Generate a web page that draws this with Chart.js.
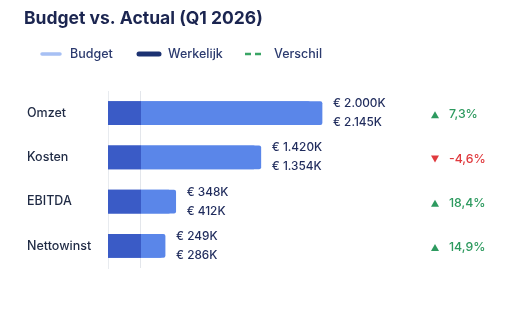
<!DOCTYPE html>
<html>
<head>
<meta charset="utf-8">
<script src="https://cdn.jsdelivr.net/npm/chart.js@4"></script>
<style>
  html, body { margin: 0; padding: 0; background: #ffffff; }
  #wrap { width: 507px; height: 310px; position: relative; }
</style>
</head>
<body>
<div id="wrap"><canvas id="c" width="507" height="310"></canvas></div>
<script>
const categories = ["Omzet", "Kosten", "EBITDA", "Nettowinst"];
const budget = [2000, 1420, 348, 249];
const actual = [2145, 1354, 412, 286];
const seriesNames = ["Budget", "Werkelijk", "Verschil"];
const titleText = "Budget vs. Actual (Q1 2026)";

const X_MIN = -390;
const X_MAX = 3400;
const FONT = "Inter, 'Open Sans', sans-serif";
const NAVY = "#1f2b5c";
const BAR_LIGHT = "#5a86e9";
const BAR_DARK = "#3a5bc6";

function fmtEuro(v) {
  return "€ " + v.toLocaleString("de-DE") + "K";
}
function fmtPct(p) {
  const r = Math.round(p * 10 + 1e-9) / 10;
  return r.toFixed(1).replace(".", ",") + "%";
}

function barFill(ctx) {
  const chart = ctx.chart;
  const area = chart.chartArea;
  if (!area) return BAR_LIGHT;
  const xs = chart.scales.x;
  const zero = xs.getPixelForValue(0);
  const g = chart.ctx.createLinearGradient(area.left, 0, area.right, 0);
  const s = Math.min(Math.max((zero - area.left) / (area.right - area.left), 0), 1);
  g.addColorStop(0, BAR_DARK);
  g.addColorStop(s, BAR_DARK);
  g.addColorStop(s, BAR_LIGHT);
  g.addColorStop(1, BAR_LIGHT);
  return g;
}

const overlayPlugin = {
  id: "overlay",
  afterDraw(chart) {
    const c = chart.ctx;
    const xs = chart.scales.x, ys = chart.scales.y;
    c.save();
    // title
    c.fillStyle = "#1b2550";
    c.font = "bold 17.5px " + FONT;
    c.textBaseline = "alphabetic";
    c.textAlign = "left";
    c.fillText(titleText, 24, 24);

    // legend
    c.font = "500 12.5px " + FONT;
    c.textBaseline = "middle";
    const ly = 54;
    c.lineCap = "round";
    c.strokeStyle = "#a7c0f4"; c.lineWidth = 3.5;
    c.beginPath(); c.moveTo(42, ly); c.lineTo(60, ly); c.stroke();
    c.fillStyle = "#2b3a6e"; c.fillText(seriesNames[0], 70, ly);
    c.strokeStyle = "#1c3272"; c.lineWidth = 5;
    c.beginPath(); c.moveTo(139, ly); c.lineTo(159, ly); c.stroke();
    c.fillStyle = "#2b3a6e"; c.fillText(seriesNames[1], 168, ly);
    c.lineCap = "butt";
    c.strokeStyle = "#3aa565"; c.lineWidth = 2.5;
    c.setLineDash([6, 4]);
    c.beginPath(); c.moveTo(245, ly); c.lineTo(265, ly); c.stroke();
    c.setLineDash([]);
    c.fillStyle = "#2b3a6e"; c.fillText(seriesNames[2], 274, ly);

    // value labels
    c.font = "500 11.8px " + FONT;
    c.fillStyle = NAVY;
    categories.forEach((cat, i) => {
      const yc = ys.getPixelForValue(i);
      const end = xs.getPixelForValue(Math.max(budget[i], actual[i]));
      c.fillText(fmtEuro(budget[i]), end + 11, yc - 9.5);
      c.fillText(fmtEuro(actual[i]), end + 11, yc + 9.5);
    });

    // variance
    c.font = "500 12.3px " + FONT;
    categories.forEach((cat, i) => {
      const yc = ys.getPixelForValue(i) + 1.5;
      const pct = (actual[i] - budget[i]) / budget[i] * 100;
      const up = pct >= 0;
      c.fillStyle = up ? "#2d9a5f" : "#e03a3e";
      c.beginPath();
      if (up) {
        c.moveTo(431, yc + 3.5); c.lineTo(439, yc + 3.5); c.lineTo(435, yc - 3.5);
      } else {
        c.moveTo(431, yc - 3.5); c.lineTo(439, yc - 3.5); c.lineTo(435, yc + 3.5);
      }
      c.closePath(); c.fill();
      c.fillText(fmtPct(pct), 449, yc);
    });
    c.restore();
  }
};

new Chart(document.getElementById("c"), {
  type: "bar",
  data: {
    labels: categories,
    datasets: [
      { label: seriesNames[0], data: budget, base: X_MIN, grouped: false,
        backgroundColor: barFill, barThickness: 23, borderRadius: 2 },
      { label: seriesNames[1], data: actual, base: X_MIN, grouped: false,
        backgroundColor: barFill, barThickness: 23, borderRadius: 2 }
    ]
  },
  options: {
    indexAxis: "y",
    responsive: false,
    animation: false,
    layout: { padding: { left: 27, right: 79, top: 91, bottom: 42 } },
    plugins: {
      legend: { display: false },
      title: { display: false },
      tooltip: { enabled: false }
    },
    scales: {
      x: {
        min: X_MIN, max: X_MAX,
        ticks: { display: false },
        border: { display: false },
        grid: {
          drawTicks: false,
          color: (ctx) => (ctx.tick && ctx.tick.value === 0) ? "rgba(200,205,215,0.5)" : "rgba(0,0,0,0)",
          lineWidth: 1
        },
        afterBuildTicks: (axis) => { axis.ticks = [{ value: 0 }]; }
      },
      y: {
        grid: { display: false, drawTicks: false },
        border: { display: true, color: "rgba(205,210,220,0.45)", dash: [3, 3] },
        ticks: {
          crossAlign: "far",
          padding: 0,
          color: "#1f2a44",
          font: { family: FONT, size: 12.5, weight: "500" }
        },
        afterFit: (axis) => { axis.width = 81; }
      }
    }
  },
  plugins: [overlayPlugin]
});
</script>
</body>
</html>
